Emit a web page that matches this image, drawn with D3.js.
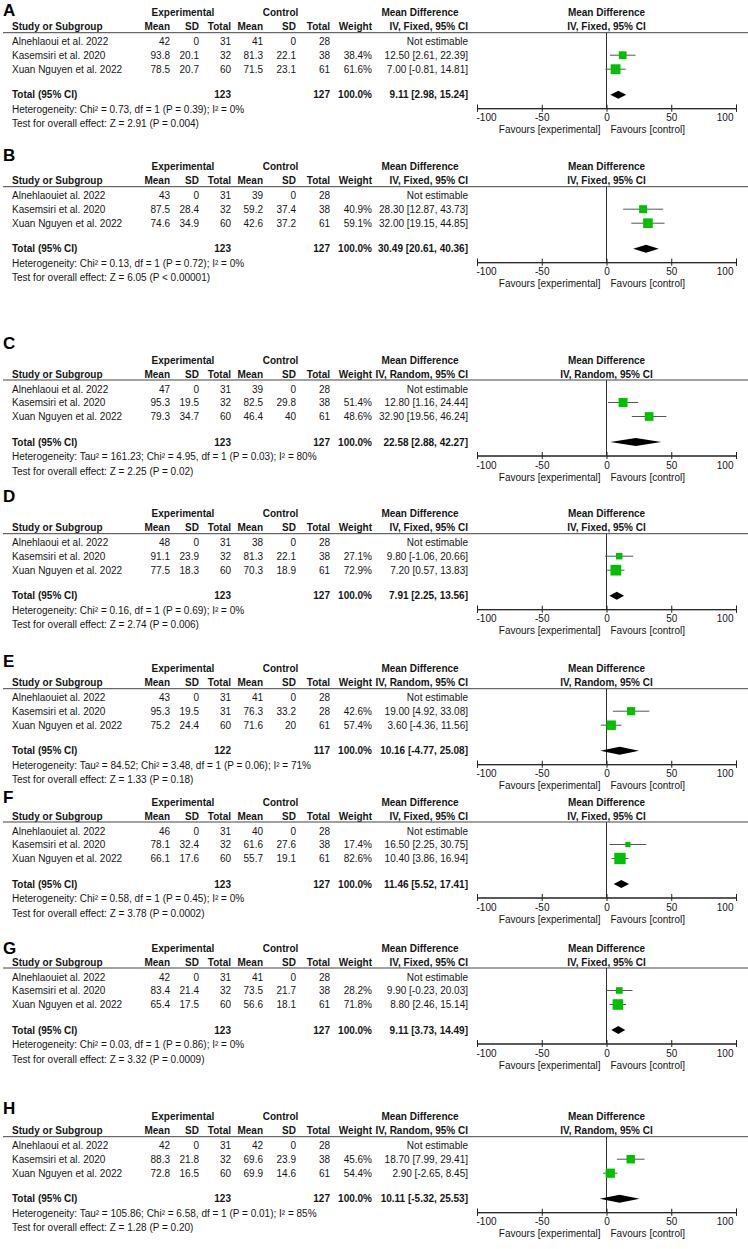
<!DOCTYPE html>
<html>
<head>
<meta charset="utf-8">
<script src="https://cdn.jsdelivr.net/npm/d3@7"></script>
<style>
body { margin: 0; background: #fff; }
svg text { font-family: "Liberation Sans", Arial, sans-serif; fill: #151515; }
</style>
</head>
<body>
<div id="chart"></div>
<script>
// ---- data ----
let panels = ["A", "B", "C", "D", "E", "F", "G", "H"];
let methods = ["Fixed", "Fixed", "Random", "Fixed", "Random", "Fixed", "Fixed", "Random"];
let studyNames = [
	["Alnehlaoui et al. 2022", "Kasemsiri et al. 2020", "Xuan Nguyen et al. 2022"],
	["Alnehlaouiet al. 2022", "Kasemsiri et al. 2020", "Xuan Nguyen et al. 2022"],
	["Alnehlaoui et al. 2022", "Kasemsiri et al. 2020", "Xuan Nguyen et al. 2022"],
	["Alnehlaoui et al. 2022", "Kasemsiri et al. 2020", "Xuan Nguyen et al. 2022"],
	["Alnehlaouiet al. 2022", "Kasemsiri et al. 2020", "Xuan Nguyen et al. 2022"],
	["Alnehlaouiet al. 2022", "Kasemsiri et al. 2020", "Xuan Nguyen et al. 2022"],
	["Alnehlaouiet al. 2022", "Kasemsiri et al. 2020", "Xuan Nguyen et al. 2022"],
	["Alnehlaoui et al. 2022", "Kasemsiri et al. 2020", "Xuan Nguyen et al. 2022"]
];
let expMean = [[42, 93.8, 78.5], [43, 87.5, 74.6], [47, 95.3, 79.3], [48, 91.1, 77.5], [43, 95.3, 75.2], [46, 78.1, 66.1], [42, 83.4, 65.4], [42, 88.3, 72.8]];
let expSD = [[0, 20.1, 20.7], [0, 28.4, 34.9], [0, 19.5, 34.7], [0, 23.9, 18.3], [0, 19.5, 24.4], [0, 32.4, 17.6], [0, 21.4, 17.5], [0, 21.8, 16.5]];
let expTotal = [[31, 32, 60], [31, 32, 60], [31, 32, 60], [31, 32, 60], [31, 31, 60], [31, 32, 60], [31, 32, 60], [31, 32, 60]];
let ctlMean = [[41, 81.3, 71.5], [39, 59.2, 42.6], [39, 82.5, 46.4], [38, 81.3, 70.3], [41, 76.3, 71.6], [40, 61.6, 55.7], [41, 73.5, 56.6], [42, 69.6, 69.9]];
let ctlSD = [[0, 22.1, 23.1], [0, 37.4, 37.2], [0, 29.8, 40], [0, 22.1, 18.9], [0, 33.2, 20], [0, 27.6, 19.1], [0, 21.7, 18.1], [0, 23.9, 14.6]];
let ctlTotal = [[28, 38, 61], [28, 38, 61], [28, 38, 61], [28, 38, 61], [28, 28, 61], [28, 38, 61], [28, 38, 61], [28, 38, 61]];
let weights = [[null, 38.4, 61.6], [null, 40.9, 59.1], [null, 51.4, 48.6], [null, 27.1, 72.9], [null, 42.6, 57.4], [null, 17.4, 82.6], [null, 28.2, 71.8], [null, 45.6, 54.4]];
let md = [[null, 12.5, 7.0], [null, 28.3, 32.0], [null, 12.8, 32.9], [null, 9.8, 7.2], [null, 19.0, 3.6], [null, 16.5, 10.4], [null, 9.9, 8.8], [null, 18.7, 2.9]];
let mdLow = [[null, 2.61, -0.81], [null, 12.87, 19.15], [null, 1.16, 19.56], [null, -1.06, 0.57], [null, 4.92, -4.36], [null, 2.25, 3.86], [null, -0.23, 2.46], [null, 7.99, -2.65]];
let mdHigh = [[null, 22.39, 14.81], [null, 43.73, 44.85], [null, 24.44, 46.24], [null, 20.66, 13.83], [null, 33.08, 11.56], [null, 30.75, 16.94], [null, 20.03, 15.14], [null, 29.41, 8.45]];
let sumExp = [123, 123, 123, 123, 122, 123, 123, 123];
let sumCtl = [127, 127, 127, 127, 117, 127, 127, 127];
let pooled = [9.11, 30.49, 22.58, 7.91, 10.16, 11.46, 9.11, 10.11];
let pooledLow = [2.98, 20.61, 2.88, 2.25, -4.77, 5.52, 3.73, -5.32];
let pooledHigh = [15.24, 40.36, 42.27, 13.56, 25.08, 17.41, 14.49, 25.53];
let tau2 = [null, null, "161.23", null, "84.52", null, null, "105.86"];
let chi2 = ["0.73", "0.13", "4.95", "0.16", "3.48", "0.58", "0.03", "6.58"];
let hetP = ["0.39", "0.72", "0.03", "0.69", "0.06", "0.45", "0.86", "0.01"];
let i2 = [0, 0, 80, 0, 71, 0, 0, 85];
let zValue = ["2.91", "6.05", "2.25", "2.74", "1.33", "3.78", "3.32", "1.28"];
let zP = ["= 0.004", "< 0.00001", "= 0.02", "= 0.006", "= 0.18", "= 0.0002", "= 0.0009", "= 0.20"];
let axisTicks = [-100, -50, 0, 50, 100];

// ---- layout ----
let width = 748;
let height = 1249;
let studyRowY = [26.7, 180.7, 374, 527.7, 682.7, 816, 962, 1130.7];
let letterY = [16, 161, 349, 502, 667, 803, 954, 1114];
let col = { name: 12, eMean: 170, eSD: 199, eTot: 231, cMean: 263, cSD: 296, cTot: 330, weight: 372, md: 468 };
let rowDy = [15, 28.5, 42.5];
let base = 3.6; // centre -> baseline for 10px text

let svg = d3.select("#chart")
	.append("svg")
	.attr("width", width)
	.attr("height", height);

svg.append("rect").attr("width", width).attr("height", height).attr("fill", "#fff");

let x = d3.scaleLinear()
	.domain([-100, 100])
	.range([477, 736]);

let fmt = v => v.toFixed(2);

function txt(g, xp, yc, s, anchor, bold) {
	return g.append("text")
		.attr("x", xp)
		.attr("y", yc + base)
		.attr("font-size", 10)
		.attr("font-weight", bold ? "bold" : "normal")
		.attr("text-anchor", anchor || "start")
		.text(s);
}

panels.forEach((p, i) => {
	let g = svg.append("g").attr("transform", "translate(0," + studyRowY[i] + ")");

	svg.append("text")
		.attr("x", 3)
		.attr("y", letterY[i])
		.attr("font-size", 17)
		.attr("font-weight", "bold")
		.style("fill", "#000")
		.text(p);

	// headers
	txt(g, 183, -14, "Experimental", "middle", true);
	txt(g, 280.5, -14, "Control", "middle", true);
	txt(g, 420, -14, "Mean Difference", "middle", true);
	txt(g, x(0), -14, "Mean Difference", "middle", true);
	txt(g, col.name, 0, "Study or Subgroup", "start", true);
	txt(g, col.eMean, 0, "Mean", "end", true);
	txt(g, col.eSD, 0, "SD", "end", true);
	txt(g, col.eTot, 0, "Total", "end", true);
	txt(g, col.cMean, 0, "Mean", "end", true);
	txt(g, col.cSD, 0, "SD", "end", true);
	txt(g, col.cTot, 0, "Total", "end", true);
	txt(g, col.weight, 0, "Weight", "end", true);
	txt(g, col.md, 0, "IV, " + methods[i] + ", 95% CI", "end", true);
	txt(g, x(0), 0, "IV, " + methods[i] + ", 95% CI", "middle", true);

	g.append("line")
		.attr("x1", 3).attr("x2", width)
		.attr("y1", 6).attr("y2", 6)
		.attr("stroke", "#444").attr("stroke-width", 1);

	// zero line
	g.append("line")
		.attr("x1", x(0)).attr("x2", x(0))
		.attr("y1", 6).attr("y2", 81.5)
		.attr("stroke", "#333").attr("stroke-width", 1);

	// study rows
	studyNames[i].forEach((name, j) => {
		let yc = rowDy[j];
		txt(g, col.name, yc, name);
		txt(g, col.eMean, yc, String(expMean[i][j]), "end");
		txt(g, col.eSD, yc, String(expSD[i][j]), "end");
		txt(g, col.eTot, yc, String(expTotal[i][j]), "end");
		txt(g, col.cMean, yc, String(ctlMean[i][j]), "end");
		txt(g, col.cSD, yc, String(ctlSD[i][j]), "end");
		txt(g, col.cTot, yc, String(ctlTotal[i][j]), "end");
		if (weights[i][j] === null) {
			txt(g, col.md, yc, "Not estimable", "end");
			return;
		}
		txt(g, col.weight, yc, weights[i][j].toFixed(1) + "%", "end");
		txt(g, col.md, yc, fmt(md[i][j]) + " [" + fmt(mdLow[i][j]) + ", " + fmt(mdHigh[i][j]) + "]", "end");

		g.append("line")
			.attr("x1", x(mdLow[i][j])).attr("x2", x(mdHigh[i][j]))
			.attr("y1", yc).attr("y2", yc)
			.attr("stroke", "#555").attr("stroke-width", 1);

		let side = 1.25 * Math.sqrt(weights[i][j]);
		g.append("rect")
			.attr("x", x(md[i][j]) - side / 2)
			.attr("y", yc - side / 2)
			.attr("width", side)
			.attr("height", side)
			.attr("fill", "#00c000");
	});

	// total row
	let ty = 68;
	txt(g, col.name, ty, "Total (95% CI)", "start", true);
	txt(g, col.eTot, ty, String(sumExp[i]), "end", true);
	txt(g, col.cTot, ty, String(sumCtl[i]), "end", true);
	txt(g, col.weight, ty, "100.0%", "end", true);
	txt(g, col.md, ty, fmt(pooled[i]) + " [" + fmt(pooledLow[i]) + ", " + fmt(pooledHigh[i]) + "]", "end", true);

	g.append("polygon")
		.attr("points", [
			[x(pooledLow[i]), ty], [x(pooled[i]), ty - 4], [x(pooledHigh[i]), ty], [x(pooled[i]), ty + 4]
		].map(d => d.join(",")).join(" "))
		.attr("fill", "#000");

	let het = "Heterogeneity: " + (tau2[i] ? "Tau\u00b2 = " + tau2[i] + "; " : "") +
		"Chi\u00b2 = " + chi2[i] + ", df = 1 (P = " + hetP[i] + "); I\u00b2 = " + i2[i] + "%";
	txt(g, col.name, 82.5, het);
	txt(g, col.name, 97, "Test for overall effect: Z = " + zValue[i] + " (P " + zP[i] + ")");

	// axis
	let ax = g.append("g").attr("transform", "translate(0,81.5)").style("color", "#222");
	ax.append("g")
		.call(d3.axisTop(x).tickValues(axisTicks).tickSize(3.5).tickFormat(""));
	ax.append("g")
		.call(d3.axisBottom(x).tickValues(axisTicks).tickSize(3.5).tickPadding(2.5).tickFormat(d => String(d)))
		.call(a => a.selectAll("text")
			.attr("font-size", 10)
			.attr("font-family", "Liberation Sans, Arial, sans-serif")
			.attr("text-anchor", (d, k) => k === 0 ? "start" : (k === axisTicks.length - 1 ? "end" : "middle"))
			.attr("dx", (d, k) => k === 0 ? -1 : (k === axisTicks.length - 1 ? -3 : 0)));

	txt(g, x(0) - 6, 103, "Favours [experimental]", "end");
	txt(g, x(0) + 4, 103, "Favours [control]", "start");
});
</script>
</body>
</html>
